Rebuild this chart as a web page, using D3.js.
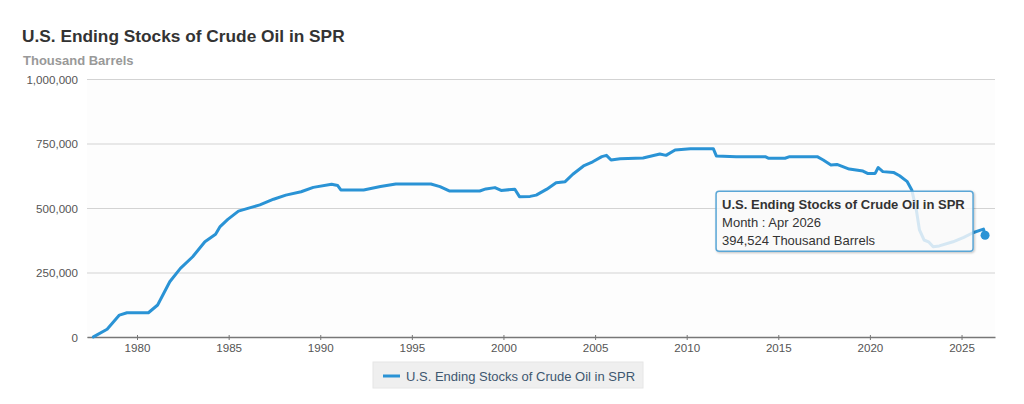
<!DOCTYPE html>
<html>
<head>
<meta charset="utf-8">
<script src="https://cdn.jsdelivr.net/npm/d3@7"></script>
<style>
  body { margin: 0; background: #fff; }
  svg { display: block; font-family: "Liberation Sans", Arial, sans-serif; }
</style>
</head>
<body>
<svg id="chart" width="1024" height="404"></svg>
<script>
/*
 U.S. ending stocks of crude oil in the SPR, line chart
*/

const chartTitle = "U.S. Ending Stocks of Crude Oil in SPR";
const unitLabel = "Thousand Barrels";

// month (YYYY-MM) and stock level, thousand barrels
const months = [
    "1977-08", "1978-05", "1979-01", "1979-06", "1980-08", "1981-02", "1981-10", "1982-05",
    "1983-01", "1983-09", "1984-04", "1984-07", "1984-12", "1985-07", "1986-09", "1987-06",
    "1988-02", "1988-12", "1989-08", "1990-08", "1990-12", "1991-02", "1992-05", "1993-04",
    "1994-02", "1996-01", "1996-07", "1997-01", "1998-09", "1999-01", "1999-07", "1999-11",
    "2000-08", "2000-11", "2001-06", "2001-10", "2002-05", "2002-11", "2003-05", "2003-10",
    "2004-05", "2004-11", "2005-05", "2005-08", "2005-11", "2006-05", "2007-08", "2008-07",
    "2008-11", "2009-05", "2010-03", "2011-06", "2011-08", "2012-09", "2014-04", "2014-06",
    "2015-05", "2015-08", "2017-02", "2017-06", "2017-11", "2018-03", "2018-11", "2019-08",
    "2019-11", "2020-04", "2020-06", "2020-09", "2021-04", "2021-08", "2022-01", "2022-04",
    "2022-07", "2022-09", "2022-12", "2023-03", "2023-06", "2023-10", "2024-07", "2025-02",
    "2025-08", "2026-03", "2026-04"
];
const stocks = [
    400, 30000, 85000, 94000, 94000, 124000, 214000, 266000,
    311000, 369000, 398000, 428000, 456000, 488000, 512000, 534000,
    550000, 563000, 580000, 592000, 587000, 570000, 570000, 583000,
    593000, 593000, 583000, 566000, 566000, 574000, 579000, 568000,
    573000, 544000, 545000, 550000, 573000, 598000, 602000, 631000,
    663000, 679000, 699000, 704000, 686000, 691000, 694000, 709000,
    704000, 725000, 730000, 730000, 702000, 699000, 699000, 693000,
    693000, 699000, 699000, 686000, 667000, 669000, 651000, 643000,
    634000, 634000, 657000, 641000, 638000, 625000, 602000, 570000,
    492000, 415000, 376000, 369000, 350000, 353000, 369000, 386000,
    404000, 418000, 394524
];

const yTicks = [0, 250000, 500000, 750000, 1000000];
const xTickYears = [1980, 1985, 1990, 1995, 2000, 2005, 2010, 2015, 2020, 2025];

const width = 1024, height = 404;
const plot = { left: 87, right: 995, top: 79, bottom: 337 };
const lineColor = "#2a93d5";

const parseMonth = d3.timeParse("%Y-%m");
const data = months.map((m, i) => {
    const d = parseMonth(m);
    d.setDate(15);
    return { date: d, value: stocks[i] };
});

const svg = d3.select("#chart");

const xscale = d3.scaleTime()
    .domain([new Date(1977, 3, 9), new Date(2026, 9, 30)])
    .range([plot.left, plot.right]);

const yscale = d3.scaleLinear()
    .domain([0, 1000000])
    .range([plot.bottom, plot.top]);

// titles
svg.append("text")
    .attr("x", 22).attr("y", 42)
    .attr("font-size", "17.3px").attr("font-weight", "bold")
    .attr("fill", "#333")
    .text(chartTitle);

svg.append("text")
    .attr("x", 23).attr("y", 65)
    .attr("font-size", "13px").attr("font-weight", "bold")
    .attr("fill", "#999")
    .text(unitLabel);

// plot background
svg.append("rect")
    .attr("x", plot.left).attr("y", plot.top)
    .attr("width", plot.right - plot.left).attr("height", plot.bottom - plot.top)
    .attr("fill", "#fdfdfd");

// y axis: gridlines + labels
const yAxis = svg.append("g")
    .attr("transform", `translate(${plot.left},0)`)
    .call(d3.axisLeft(yscale)
        .tickValues(yTicks)
        .tickSize(-(plot.right - plot.left))
        .tickPadding(9)
        .tickFormat(d3.format(",")))
    .call(g => g.select(".domain").remove());
yAxis.selectAll(".tick line").attr("stroke", "#d3d3d3");
yAxis.selectAll(".tick text")
    .attr("font-size", "11.6px")
    .attr("font-family", "Liberation Sans, Arial, sans-serif")
    .attr("fill", "#555")
    .attr("dy", "0.35em");

// x axis
const xAxis = svg.append("g")
    .attr("transform", `translate(0,${plot.bottom})`)
    .call(d3.axisBottom(xscale)
        .tickValues(xTickYears.map(y => new Date(y, 0, 1)))
        .tickSize(3)
        .tickSizeOuter(0)
        .tickPadding(4)
        .tickFormat(d3.timeFormat("%Y")));
xAxis.select(".domain").attr("stroke", "#777").attr("stroke-width", 1.5);
xAxis.selectAll(".tick line").attr("stroke", "#777").attr("y1", -2);
xAxis.selectAll(".tick text")
    .attr("font-size", "11.6px")
    .attr("font-family", "Liberation Sans, Arial, sans-serif")
    .attr("fill", "#555");

// the series line
const line = d3.line()
    .x(d => xscale(d.date))
    .y(d => yscale(d.value));

svg.append("path")
    .datum(data)
    .attr("fill", "none")
    .attr("stroke", lineColor)
    .attr("stroke-width", 3)
    .attr("stroke-linejoin", "round")
    .attr("stroke-linecap", "round")
    .attr("d", line);

// hovered point
const last = data[data.length - 1];
const px = xscale(last.date), py = yscale(last.value);
svg.append("circle")
    .attr("cx", px).attr("cy", py).attr("r", 4.5)
    .attr("fill", lineColor);

// tooltip
const tipW = 257, tipH = 60;
const tip = svg.append("g")
    .attr("transform", `translate(${px - 12 - tipW},${py - 44})`);

const defs = svg.append("defs");
const shadow = defs.append("filter").attr("id", "tipshadow")
    .attr("x", "-10%").attr("y", "-10%").attr("width", "130%").attr("height", "140%");
shadow.append("feDropShadow")
    .attr("dx", 1).attr("dy", 1).attr("stdDeviation", 1.2)
    .attr("flood-color", "#000").attr("flood-opacity", 0.25);

tip.append("rect")
    .attr("width", tipW).attr("height", tipH)
    .attr("rx", 3).attr("ry", 3)
    .attr("fill", "#fff").attr("fill-opacity", 0.78)
    .attr("stroke", "#5aa6d6").attr("stroke-width", 1.5)
    .attr("filter", "url(#tipshadow)");

const tipLines = [
    { text: chartTitle, bold: true },
    { text: `Month : ${d3.timeFormat("%b %Y")(last.date)}`, bold: false },
    { text: `${d3.format(",")(last.value)} ${unitLabel}`, bold: false },
];
tip.selectAll("text.tipline")
    .data(tipLines)
    .join("text")
    .attr("class", "tipline")
    .attr("x", 6)
    .attr("y", (d, i) => 18 + i * 18)
    .attr("font-size", "13px")
    .attr("font-weight", d => d.bold ? "bold" : "normal")
    .attr("fill", "#333")
    .text(d => d.text);

// legend
const legend = svg.append("g").attr("transform", "translate(373,362)");
legend.append("rect")
    .attr("width", 270).attr("height", 26)
    .attr("fill", "#efefef").attr("stroke", "#e6e6e6");
legend.append("line")
    .attr("x1", 10).attr("x2", 27).attr("y1", 14).attr("y2", 14)
    .attr("stroke", lineColor).attr("stroke-width", 3);
legend.append("text")
    .attr("x", 33).attr("y", 18.5)
    .attr("font-size", "13px")
    .attr("fill", "#3e576f")
    .text(chartTitle);
</script>
</body>
</html>
